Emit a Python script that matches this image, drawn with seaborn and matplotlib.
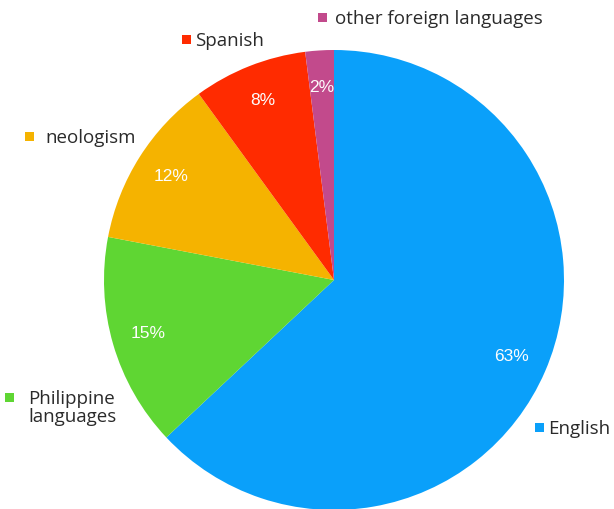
import matplotlib
matplotlib.use("Agg")
import matplotlib.pyplot as plt
from matplotlib.patches import Rectangle
import seaborn as sns
import numpy as np

categories = ["English", "Philippine\nlanguages", "neologism", "Spanish", "other foreign languages"]
values = [63, 15, 12, 8, 2]
pct_labels = ["63%", "15%", "12%", "8%", "2%"]
colors = ["#0aa0fa", "#5fd633", "#f5b300", "#ff2b00", "#c24a8c"]

# layout: outer label marker top-left (px from top-left) and text start x
marker_pos = [(535, 423), (5, 393), (25, 132), (182, 35), (318, 13)]
text_x = [548, 28, 45, 195, 335]

sns.set_theme(style="white")
plt.rcParams['font.family'] = ['Open Sans', 'DejaVu Sans']

W, H = 614, 509
fig = plt.figure(figsize=(W / 100, H / 100), dpi=100)
cx, cy, R = 334, 280, 230
ax = fig.add_axes([(cx - R) / W, (H - cy - R) / H, 2 * R / W, 2 * R / H])

wedges, texts, autotexts = ax.pie(
    values, colors=colors, startangle=90, counterclock=False, radius=1,
    labels=None, autopct="%1.0f%%", pctdistance=0.84,
    wedgeprops=dict(linewidth=0),
    textprops=dict(color="#fdfdfd", fontsize=12.5, family=["Liberation Sans", "DejaVu Sans"]),
    frame=True,
)
for t, s in zip(autotexts, pct_labels):
    t.set_text(s)
ax.set_xlim(-1, 1)
ax.set_ylim(-1, 1)
ax.set_aspect("equal")
ax.axis("off")

sq = 9
for (mx, my), tx, name, col in zip(marker_pos, text_x, categories, colors):
    fig.patches.append(Rectangle((mx / W, 1 - (my + sq) / H), sq / W, sq / H,
                                 transform=fig.transFigure, facecolor=col,
                                 edgecolor="none", figure=fig))
    base = my + sq / 2 + 6.5
    for i, line in enumerate(name.split("\n")):
        fig.text(tx / W, 1 - (base + 18 * i) / H, line, color="#2a2a2a",
                 fontsize=13.5, va="baseline", ha="left")

fig.savefig("out.png", dpi=100, facecolor="white")
